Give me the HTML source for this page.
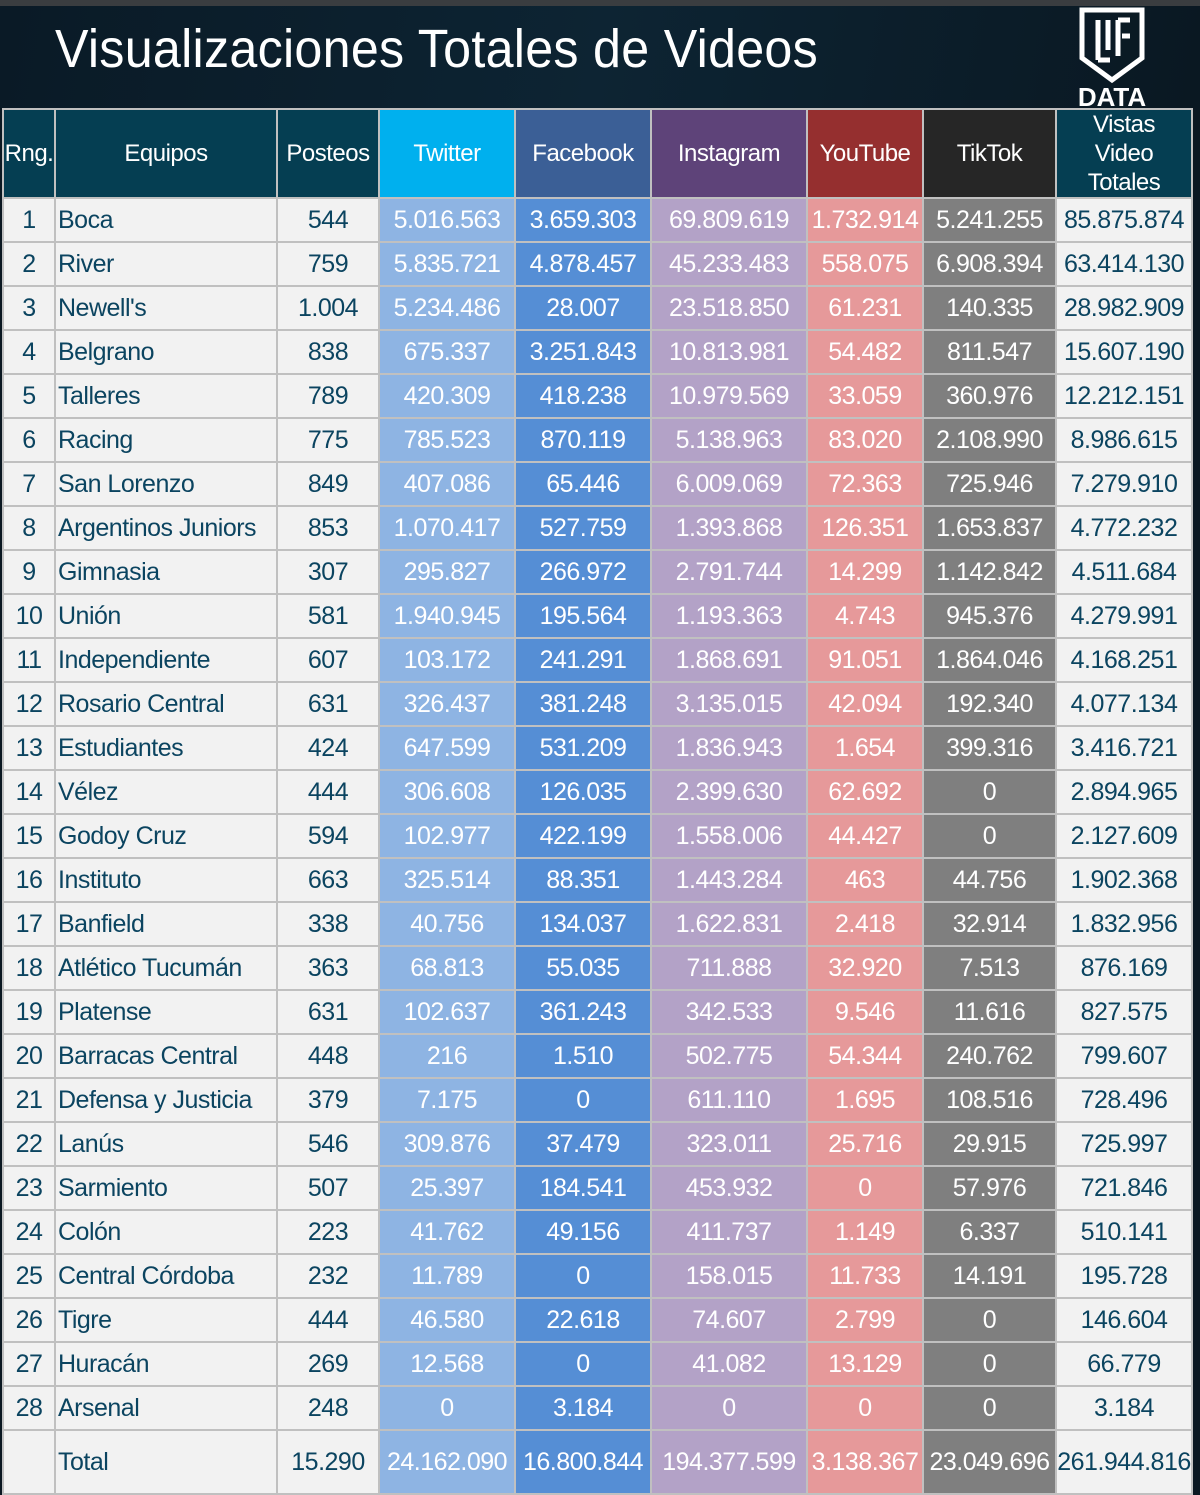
<!DOCTYPE html>
<html><head><meta charset="utf-8"><style>
body{margin:0;width:1200px;height:1495px;overflow:hidden;background:#0b1822;font-family:"Liberation Sans",sans-serif}
.top{position:absolute;left:0;top:0;width:1200px;height:6px;background:#3a3d40}
.hdr{position:absolute;left:0;top:6px;width:1200px;height:102px;background:linear-gradient(100deg,#0a1a26,#0d2433 50%,#0a1822)}
.title{position:absolute;left:55px;top:18px;color:#fff;font-size:54px;letter-spacing:0.3px;white-space:nowrap;transform:scaleX(0.93);transform-origin:left}
.logo{position:absolute;left:1070px;top:6px;width:90px;height:102px}
table{position:absolute;left:2px;top:108px;border-collapse:collapse;table-layout:fixed;background:#f2f2f2}
td{border:2px solid #c0c0c0;padding:0;text-align:center;font-size:25px;color:#fff;white-space:nowrap;overflow:hidden;letter-spacing:-0.5px}
tr.h td{height:86px;font-size:24px;line-height:29px}
tr.r td{height:42px}
tr.t td{height:62px}
.d{background:#053e52}.tw{background:#00b0ee}.fb{background:#3b5f96}.ig{background:#5e4379}.yt{background:#952f2f}.tk{background:#262626}
.n{text-align:left;padding-left:2px}
tr.r td:nth-child(4),tr.t td:nth-child(4){background:#8eb4e3}
tr.r td:nth-child(5),tr.t td:nth-child(5){background:#558ed5}
tr.r td:nth-child(6),tr.t td:nth-child(6){background:#b3a2c7}
tr.r td:nth-child(7),tr.t td:nth-child(7){background:#e6999a}
tr.r td:nth-child(8),tr.t td:nth-child(8){background:#7f7f7f}
tr.r td:nth-child(-n+3),tr.r td:nth-child(9),tr.t td:nth-child(-n+3),tr.t td:nth-child(9){color:#0b4460}
</style></head><body>
<div class="top"></div><div class="hdr"></div>
<div class="title">Visualizaciones Totales de Videos</div>
<svg class="logo" viewBox="0 0 90 102"><path d="M12 4 H72 V52 L42 74 L12 52 Z" fill="none" stroke="#fff" stroke-width="5"/><path d="M28 14 V54 M28 54 H40 M38 14 V44 M48 14 V50 M48 14 H60 M52 30 H60" stroke="#fff" stroke-width="5" fill="none"/><text x="42" y="100" fill="#fff" font-size="26" font-weight="bold" text-anchor="middle" font-family="Liberation Sans">DATA</text></svg>
<table>
<colgroup><col style="width:52px"><col style="width:222px"><col style="width:102px"><col style="width:136px"><col style="width:136px"><col style="width:156px"><col style="width:116px"><col style="width:133px"><col style="width:136px"></colgroup>
<tr class="h"><td class="d">Rng.</td><td class="d">Equipos</td><td class="d">Posteos</td><td class="tw">Twitter</td><td class="fb">Facebook</td><td class="ig">Instagram</td><td class="yt">YouTube</td><td class="tk">TikTok</td><td class="d">Vistas<br>Video<br>Totales</td></tr>
<tr class="r"><td>1</td><td class="n">Boca</td><td>544</td><td>5.016.563</td><td>3.659.303</td><td>69.809.619</td><td>1.732.914</td><td>5.241.255</td><td>85.875.874</td></tr>
<tr class="r"><td>2</td><td class="n">River</td><td>759</td><td>5.835.721</td><td>4.878.457</td><td>45.233.483</td><td>558.075</td><td>6.908.394</td><td>63.414.130</td></tr>
<tr class="r"><td>3</td><td class="n">Newell's</td><td>1.004</td><td>5.234.486</td><td>28.007</td><td>23.518.850</td><td>61.231</td><td>140.335</td><td>28.982.909</td></tr>
<tr class="r"><td>4</td><td class="n">Belgrano</td><td>838</td><td>675.337</td><td>3.251.843</td><td>10.813.981</td><td>54.482</td><td>811.547</td><td>15.607.190</td></tr>
<tr class="r"><td>5</td><td class="n">Talleres</td><td>789</td><td>420.309</td><td>418.238</td><td>10.979.569</td><td>33.059</td><td>360.976</td><td>12.212.151</td></tr>
<tr class="r"><td>6</td><td class="n">Racing</td><td>775</td><td>785.523</td><td>870.119</td><td>5.138.963</td><td>83.020</td><td>2.108.990</td><td>8.986.615</td></tr>
<tr class="r"><td>7</td><td class="n">San Lorenzo</td><td>849</td><td>407.086</td><td>65.446</td><td>6.009.069</td><td>72.363</td><td>725.946</td><td>7.279.910</td></tr>
<tr class="r"><td>8</td><td class="n">Argentinos Juniors</td><td>853</td><td>1.070.417</td><td>527.759</td><td>1.393.868</td><td>126.351</td><td>1.653.837</td><td>4.772.232</td></tr>
<tr class="r"><td>9</td><td class="n">Gimnasia</td><td>307</td><td>295.827</td><td>266.972</td><td>2.791.744</td><td>14.299</td><td>1.142.842</td><td>4.511.684</td></tr>
<tr class="r"><td>10</td><td class="n">Unión</td><td>581</td><td>1.940.945</td><td>195.564</td><td>1.193.363</td><td>4.743</td><td>945.376</td><td>4.279.991</td></tr>
<tr class="r"><td>11</td><td class="n">Independiente</td><td>607</td><td>103.172</td><td>241.291</td><td>1.868.691</td><td>91.051</td><td>1.864.046</td><td>4.168.251</td></tr>
<tr class="r"><td>12</td><td class="n">Rosario Central</td><td>631</td><td>326.437</td><td>381.248</td><td>3.135.015</td><td>42.094</td><td>192.340</td><td>4.077.134</td></tr>
<tr class="r"><td>13</td><td class="n">Estudiantes</td><td>424</td><td>647.599</td><td>531.209</td><td>1.836.943</td><td>1.654</td><td>399.316</td><td>3.416.721</td></tr>
<tr class="r"><td>14</td><td class="n">Vélez</td><td>444</td><td>306.608</td><td>126.035</td><td>2.399.630</td><td>62.692</td><td>0</td><td>2.894.965</td></tr>
<tr class="r"><td>15</td><td class="n">Godoy Cruz</td><td>594</td><td>102.977</td><td>422.199</td><td>1.558.006</td><td>44.427</td><td>0</td><td>2.127.609</td></tr>
<tr class="r"><td>16</td><td class="n">Instituto</td><td>663</td><td>325.514</td><td>88.351</td><td>1.443.284</td><td>463</td><td>44.756</td><td>1.902.368</td></tr>
<tr class="r"><td>17</td><td class="n">Banfield</td><td>338</td><td>40.756</td><td>134.037</td><td>1.622.831</td><td>2.418</td><td>32.914</td><td>1.832.956</td></tr>
<tr class="r"><td>18</td><td class="n">Atlético Tucumán</td><td>363</td><td>68.813</td><td>55.035</td><td>711.888</td><td>32.920</td><td>7.513</td><td>876.169</td></tr>
<tr class="r"><td>19</td><td class="n">Platense</td><td>631</td><td>102.637</td><td>361.243</td><td>342.533</td><td>9.546</td><td>11.616</td><td>827.575</td></tr>
<tr class="r"><td>20</td><td class="n">Barracas Central</td><td>448</td><td>216</td><td>1.510</td><td>502.775</td><td>54.344</td><td>240.762</td><td>799.607</td></tr>
<tr class="r"><td>21</td><td class="n">Defensa y Justicia</td><td>379</td><td>7.175</td><td>0</td><td>611.110</td><td>1.695</td><td>108.516</td><td>728.496</td></tr>
<tr class="r"><td>22</td><td class="n">Lanús</td><td>546</td><td>309.876</td><td>37.479</td><td>323.011</td><td>25.716</td><td>29.915</td><td>725.997</td></tr>
<tr class="r"><td>23</td><td class="n">Sarmiento</td><td>507</td><td>25.397</td><td>184.541</td><td>453.932</td><td>0</td><td>57.976</td><td>721.846</td></tr>
<tr class="r"><td>24</td><td class="n">Colón</td><td>223</td><td>41.762</td><td>49.156</td><td>411.737</td><td>1.149</td><td>6.337</td><td>510.141</td></tr>
<tr class="r"><td>25</td><td class="n">Central Córdoba</td><td>232</td><td>11.789</td><td>0</td><td>158.015</td><td>11.733</td><td>14.191</td><td>195.728</td></tr>
<tr class="r"><td>26</td><td class="n">Tigre</td><td>444</td><td>46.580</td><td>22.618</td><td>74.607</td><td>2.799</td><td>0</td><td>146.604</td></tr>
<tr class="r"><td>27</td><td class="n">Huracán</td><td>269</td><td>12.568</td><td>0</td><td>41.082</td><td>13.129</td><td>0</td><td>66.779</td></tr>
<tr class="r"><td>28</td><td class="n">Arsenal</td><td>248</td><td>0</td><td>3.184</td><td>0</td><td>0</td><td>0</td><td>3.184</td></tr>
<tr class="t"><td></td><td class="n">Total</td><td>15.290</td><td>24.162.090</td><td>16.800.844</td><td>194.377.599</td><td>3.138.367</td><td>23.049.696</td><td>261.944.816</td></tr>
</table>
</body></html>
